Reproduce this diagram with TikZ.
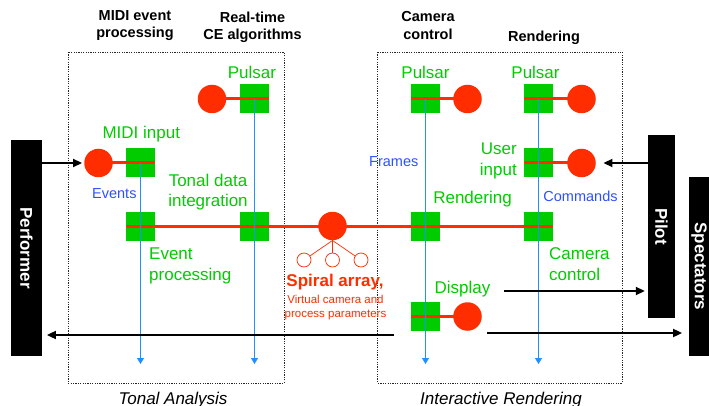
\documentclass[tikz,border=0pt]{standalone}
\usepackage{fontspec}
\setmainfont{Liberation Sans}
\usepackage{tikz}
\usetikzlibrary{arrows.meta, positioning}

\definecolor{nodegreen}{RGB}{0,204,0}
\definecolor{nodered}{RGB}{255,45,0}
\definecolor{flowblue}{RGB}{30,144,255}
\definecolor{textblue}{RGB}{45,80,255}

\begin{document}
\begin{tikzpicture}[x=1pt, y=-1pt,
    every node/.style={inner sep=0pt},
    stage/.style={draw=black!85, line width=0.9pt, dash pattern=on 1.2pt off 1.2pt},
    actorbox/.style={fill=black},
    actor/.style={text=white, font=\fontsize{17}{20}\selectfont\bfseries, rotate=-90},
    sq/.style={fill=nodegreen, minimum size=29pt},
    blob/.style={circle, fill=nodered, minimum size=28.5pt},
    sub/.style={circle, draw=nodered, fill=white, line width=0.7pt, minimum size=14pt},
    wire/.style={nodered, line width=3pt},
    flow/.style={flowblue, line width=0.9pt, -{Triangle[length=6pt, width=7pt]}},
    msg/.style={line width=1.8pt, -{Triangle[length=9pt, width=8pt]}},
    head/.style={font=\fontsize{14.5}{17.2}\selectfont\bfseries, align=center},
    lab/.style={text=nodegreen, font=\fontsize{17}{20.5}\selectfont},
    note/.style={text=textblue, font=\fontsize{14.5}{17}\selectfont},
    foot/.style={font=\fontsize{17}{20}\selectfont\itshape},
]
    \useasboundingbox (0,0) rectangle (709,406);

    % the two stages
    \draw[stage] (68,52) rectangle (284,383);
    \draw[stage] (377.7,52) rectangle (622,383);

    % column heads
    \node[head, anchor=north] (h-midi) at (135,10) {MIDI event\\processing};
    \node[head, anchor=north] (h-ce) at (252.5,11.5) {Real-time\\CE algorithms};
    \node[head, anchor=north] (h-cam) at (428,11.5) {Camera\\control};
    \node[head, anchor=base] (h-rend) at (544,41.5) {Rendering};

    % actors
    \node[actorbox, minimum width=31pt, minimum height=216pt] (perf) at (26.5,248) {};
    \node[actor] at (perf) {Performer};
    \node[actorbox, minimum width=27pt, minimum height=183pt] (pilot) at (661.5,226.5) {};
    \node[actor] at (pilot) {Pilot};
    \node[actorbox, minimum width=20pt, minimum height=179pt] (spec) at (699,266.5) {};
    \node[actor] at (spec) {Spectators};

    % dot left of its square
    \foreach \n/\cx/\sx/\y in {mi/98.5/140.5/163, rt/212/254.5/99} {
        \node[sq] (\n-s) at (\sx,\y) {};
        \node[blob] (\n-c) at (\cx,\y) {};
        \draw[wire] (\n-c.center) -- (\n-s.east);
    }
    % dot right of its square
    \foreach \n/\sx/\cx/\y in {cp/425.5/467.5/99, rp/538.5/581.5/99,
                              ui/538.5/581.5/163, dp/425.5/467.5/316.5} {
        \node[sq] (\n-s) at (\sx,\y) {};
        \node[blob] (\n-c) at (\cx,\y) {};
        \draw[wire] (\n-s.west) -- (\n-c.center);
    }

    % shared bus through the spiral array
    \foreach \n/\sx in {ep/140.5, ti/254.5, cr/425.5, rr/538.5}
        \node[sq] (\n-s) at (\sx,226) {};
    \node[blob] (sa) at (332.5,226) {};
    \draw[wire] (ep-s.west) -- (rr-s.east);
    \foreach \i/\sx in {1/304, 2/332.5, 3/361} {
        \node[sub] (sa-\i) at (\sx,260) {};
        \draw[nodered, line width=0.7pt] (sa.south) -- (sa-\i);
    }

    % time lines
    \coordinate (low) at (0,364);
    \foreach \n in {mi, rt, cp, rp}
        \draw[flow] (\n-s.center) -- (\n-s |- low);

    % labels
    \node[lab, anchor=base] (l-rt) at (252,79) {Pulsar};
    \node[lab, anchor=base] (l-cp) at (425.5,79) {Pulsar};
    \node[lab, anchor=base] (l-rp) at (535.5,79) {Pulsar};
    \node[lab, anchor=base] (l-mi) at (141.3,138.3) {MIDI input};
    \node[lab, anchor=north, align=center] (l-ti) at (208,173.5) {Tonal data\\integration};
    \node[lab, anchor=north west, align=left] (l-ep) at (149,247.7) {Event\\processing};
    \node[lab, anchor=north east, align=right] (l-ui) at (517,143) {User\\input};
    \node[lab, anchor=base] (l-cr) at (472.5,204) {Rendering};
    \node[lab, anchor=north west, align=left] (l-cc) at (549,247.7) {Camera\\control};
    \node[lab, anchor=base] (l-dp) at (462.5,293) {Display};

    \node[note, anchor=base west] (n-ev) at (92,199) {Events};
    \node[note, anchor=base west] (n-fr) at (369,167) {Frames};
    \node[note, anchor=base] (n-cm) at (580.5,201) {Commands};

    \node[font=\fontsize{17}{20}\selectfont\bfseries, text=nodered, anchor=base] (sa-t) at (335,286.5) {Spiral array,};
    \node[font=\fontsize{11.5}{13.5}\selectfont, text=nodered, align=center, anchor=north] (sa-d) at (335.5,295) {Virtual camera and\\process parameters};

    \node[foot, anchor=base] (f-ta) at (173,404) {Tonal Analysis};
    \node[foot, anchor=base] (f-ir) at (501,404) {Interactive Rendering};

    % messages to and from the actors
    \draw[msg, shorten >=2pt] (perf.east |- mi-c) -- (mi-c.west);
    \coordinate (back) at (394,335);
    \draw[msg, shorten >=4.7pt] (back) -- (back -| perf.east);
    \draw[msg, shorten >=7.5pt] (pilot.west |- ui-c) -- (ui-c.east);
    \coordinate (to-pilot) at (504,291);
    \draw[msg, shorten >=3pt] (to-pilot) -- (to-pilot -| pilot.west);
    \coordinate (to-spec) at (487,333);
    \draw[msg, shorten >=6.7pt] (to-spec) -- (to-spec -| spec.west);
\end{tikzpicture}
\end{document}
